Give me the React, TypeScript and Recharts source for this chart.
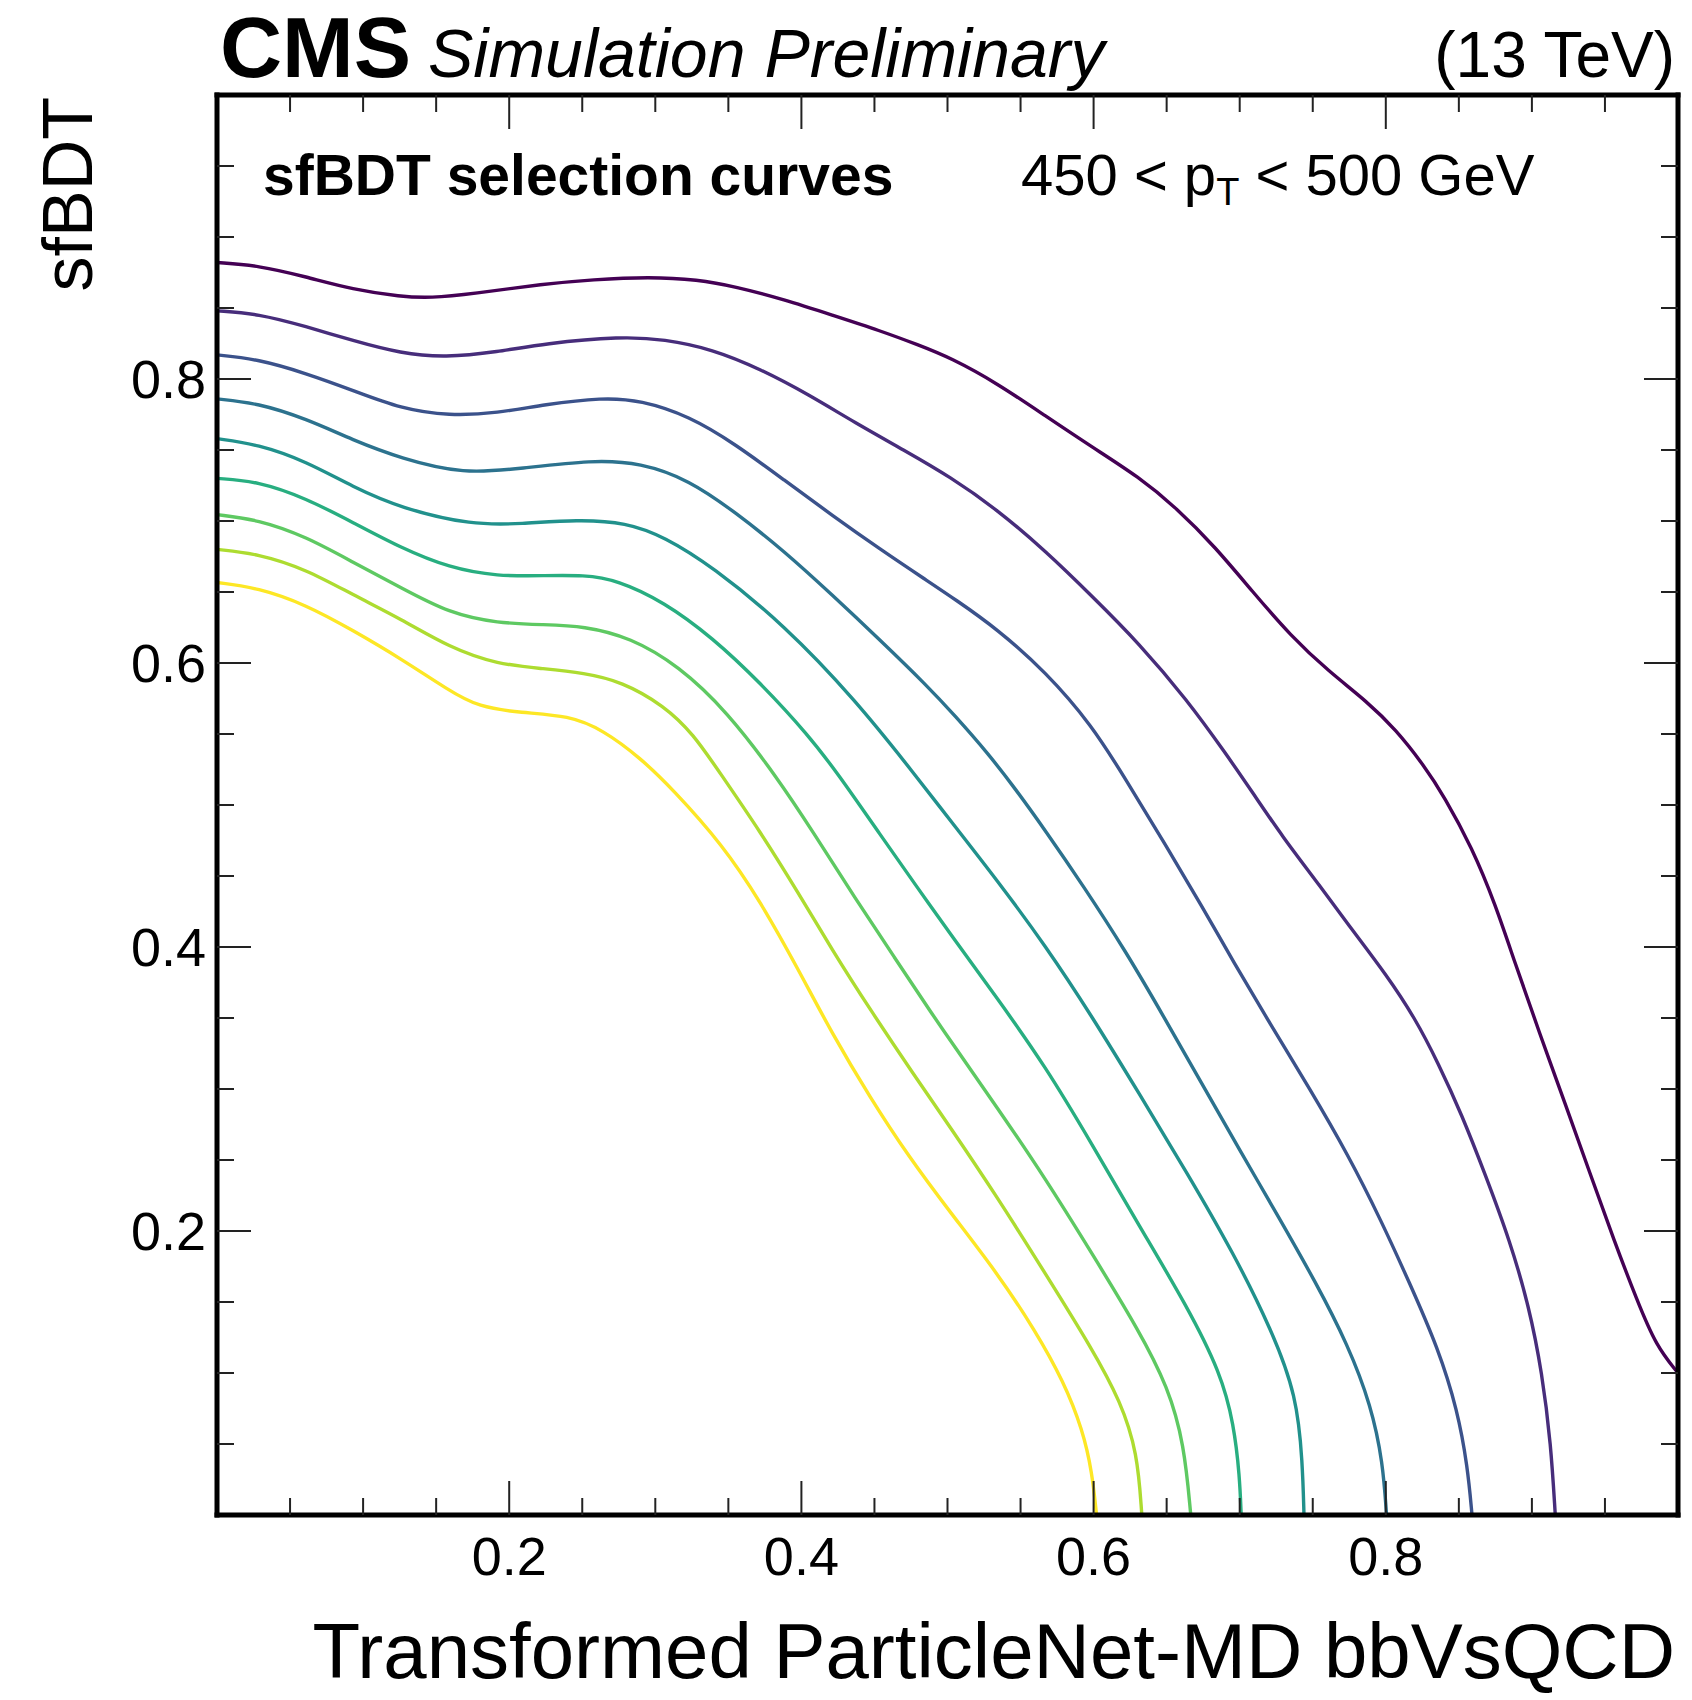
import React from 'react';
import { LineChart, Line, XAxis, YAxis } from 'recharts';

// ---- data: sfBDT selection curves (x = transformed ParticleNet-MD bbVsQCD, y = sfBDT)
const curve1: [number, number][] = [
  [0, 0.882], [0.028, 0.88], [0.061, 0.872], [0.093, 0.863], [0.126, 0.858], [0.146, 0.857],
  [0.175, 0.86], [0.224, 0.867], [0.257, 0.87], [0.296, 0.872], [0.329, 0.87], [0.355, 0.865],
  [0.388, 0.856], [0.421, 0.845], [0.454, 0.834], [0.48, 0.824], [0.502, 0.815], [0.534, 0.797],
  [0.567, 0.774], [0.599, 0.752], [0.631, 0.731], [0.657, 0.709], [0.683, 0.682], [0.709, 0.65],
  [0.735, 0.619], [0.761, 0.594], [0.787, 0.573], [0.807, 0.553], [0.826, 0.528], [0.84, 0.506],
  [0.859, 0.47], [0.875, 0.43], [0.888, 0.39], [0.905, 0.34], [0.923, 0.289], [0.94, 0.24], [0.956, 0.194],
  [0.972, 0.151], [0.985, 0.119], [1.0, 0.1],
];
const curve2: [number, number][] = [
  [0, 0.848], [0.028, 0.846], [0.061, 0.837], [0.093, 0.827], [0.126, 0.818], [0.156, 0.815],
  [0.192, 0.819], [0.224, 0.825], [0.277, 0.83], [0.306, 0.828], [0.339, 0.821], [0.372, 0.807],
  [0.405, 0.789], [0.437, 0.769], [0.47, 0.75], [0.502, 0.731], [0.534, 0.708], [0.567, 0.679],
  [0.599, 0.647], [0.631, 0.614], [0.664, 0.574], [0.69, 0.537], [0.71, 0.507], [0.729, 0.478],
  [0.755, 0.443], [0.777, 0.412], [0.8, 0.381], [0.82, 0.35], [0.836, 0.318], [0.852, 0.282],
  [0.868, 0.24], [0.885, 0.193], [0.898, 0.147], [0.907, 0.1], [0.913, 0.05], [0.916, 0],
];
const curve3: [number, number][] = [
  [0, 0.817], [0.028, 0.814], [0.061, 0.804], [0.093, 0.792], [0.126, 0.779], [0.159, 0.774],
  [0.192, 0.776], [0.224, 0.782], [0.264, 0.787], [0.29, 0.785], [0.323, 0.774], [0.355, 0.754],
  [0.388, 0.729], [0.421, 0.704], [0.454, 0.68], [0.486, 0.658], [0.505, 0.645], [0.534, 0.624],
  [0.567, 0.594], [0.599, 0.556], [0.622, 0.518], [0.648, 0.474], [0.674, 0.429], [0.696, 0.389],
  [0.722, 0.344], [0.748, 0.3], [0.774, 0.254], [0.797, 0.207], [0.816, 0.164], [0.836, 0.117],
  [0.849, 0.074], [0.856, 0.034], [0.859, 0],
];
const curve4: [number, number][] = [
  [0, 0.786], [0.028, 0.783], [0.061, 0.772], [0.093, 0.757], [0.126, 0.744], [0.169, 0.733],
  [0.208, 0.737], [0.257, 0.743], [0.29, 0.741], [0.323, 0.729], [0.355, 0.706], [0.388, 0.679],
  [0.421, 0.648], [0.454, 0.616], [0.486, 0.584], [0.505, 0.563], [0.528, 0.536], [0.546, 0.512],
  [0.567, 0.482], [0.593, 0.443], [0.622, 0.397], [0.648, 0.351], [0.674, 0.304], [0.7, 0.257],
  [0.726, 0.211], [0.752, 0.164], [0.774, 0.12], [0.79, 0.077], [0.798, 0.037], [0.8005, 0],
];
const curve5: [number, number][] = [
  [0, 0.758], [0.028, 0.754], [0.061, 0.742], [0.093, 0.724], [0.126, 0.709], [0.175, 0.697],
  [0.208, 0.698], [0.247, 0.701], [0.28, 0.699], [0.306, 0.689], [0.339, 0.668], [0.388, 0.627],
  [0.437, 0.574], [0.478, 0.521], [0.502, 0.489], [0.534, 0.447], [0.567, 0.401], [0.599, 0.351],
  [0.631, 0.297], [0.664, 0.241], [0.696, 0.184], [0.722, 0.13], [0.739, 0.084], [0.743, 0.037],
  [0.744, 0],
];
const curve6: [number, number][] = [
  [0, 0.73], [0.028, 0.728], [0.061, 0.716], [0.093, 0.699], [0.126, 0.681], [0.159, 0.667],
  [0.192, 0.661], [0.224, 0.6615], [0.251, 0.662], [0.274, 0.6585], [0.306, 0.643], [0.339, 0.618],
  [0.372, 0.586], [0.405, 0.549], [0.425, 0.522], [0.454, 0.479], [0.48, 0.441], [0.502, 0.409],
  [0.534, 0.364], [0.567, 0.316], [0.599, 0.261], [0.631, 0.204], [0.664, 0.147], [0.687, 0.1],
  [0.696, 0.064], [0.7, 0.027], [0.701, 0],
];
const curve7: [number, number][] = [
  [0, 0.7045], [0.028, 0.701], [0.061, 0.689], [0.093, 0.671], [0.126, 0.653], [0.159, 0.635],
  [0.192, 0.628], [0.224, 0.627], [0.251, 0.626], [0.283, 0.618], [0.316, 0.598], [0.349, 0.566],
  [0.383, 0.52], [0.408, 0.481], [0.437, 0.434], [0.4635, 0.393], [0.49, 0.352], [0.502, 0.334],
  [0.534, 0.287], [0.567, 0.237], [0.599, 0.184], [0.631, 0.13], [0.651, 0.09], [0.662, 0.05],
  [0.6665, 0],
];
const curve8: [number, number][] = [
  [0, 0.68], [0.028, 0.677], [0.061, 0.666], [0.093, 0.648], [0.126, 0.631], [0.159, 0.611],
  [0.192, 0.599], [0.224, 0.596], [0.251, 0.593], [0.277, 0.587], [0.306, 0.57], [0.326, 0.55],
  [0.344, 0.523], [0.372, 0.481], [0.398, 0.438], [0.421, 0.398], [0.447, 0.356], [0.477, 0.31],
  [0.502, 0.273], [0.534, 0.224], [0.567, 0.17], [0.599, 0.117], [0.6185, 0.08], [0.63, 0.044],
  [0.633, 0],
];
const curve9: [number, number][] = [
  [0, 0.6567], [0.028, 0.653], [0.061, 0.641], [0.093, 0.623], [0.126, 0.603], [0.159, 0.5805],
  [0.179, 0.569], [0.208, 0.565], [0.241, 0.563], [0.264, 0.553], [0.29, 0.533], [0.312, 0.511],
  [0.346, 0.472], [0.372, 0.432], [0.398, 0.384], [0.421, 0.339], [0.447, 0.294], [0.473, 0.253],
  [0.502, 0.213], [0.534, 0.1705], [0.56, 0.13], [0.5795, 0.094], [0.5925, 0.06], [0.599, 0.03],
  [0.602, 0],
];

const curves = [curve1, curve2, curve3, curve4, curve5, curve6, curve7, curve8, curve9];
const curveColors = ['#440154', '#472d7b', '#3b528b', '#2c728e', '#21918c', '#28ae80', '#5ec962', '#addc30', '#fde725'];

const axisTicks = [0.05, 0.1, 0.15, 0.2, 0.25, 0.3, 0.35, 0.4, 0.45, 0.5, 0.55, 0.6, 0.65, 0.7, 0.75, 0.8, 0.85, 0.9, 0.95];
const axisDomain: [number, number] = [0, 1];

const titleCMS = 'CMS';
const titleExtra = 'Simulation Preliminary';
const titleEnergy = '(13 TeV)';
const labelHeader = 'sfBDT selection curves';
const xTitle = 'Transformed ParticleNet-MD bbVsQCD';
const yTitle = 'sfBDT';

// ---- layout / style
const W = 1692;
const H = 1700;
// plot area: left 217, top 95, right 1678, bottom 1515
const AX_LEFT_W = 100;
const AX_RIGHT_W = 10;
const AX_TOP_H = 10;
const AX_BOTTOM_H = 100;
const MARGIN = { top: 95 - AX_TOP_H, right: 14 - AX_RIGHT_W, bottom: 185 - AX_BOTTOM_H, left: 217 - AX_LEFT_W };
const FONT = '"Liberation Sans", Arial, Helvetica, sans-serif';
const MAJOR_LEN = 34;
const MINOR_LEN = 17;
const TICK_STROKE = '#222';
const FRAME = { stroke: '#000', strokeWidth: 5, strokeLinecap: 'square' as const };

const isMajor = (v: number) => Math.abs(v * 5 - Math.round(v * 5)) < 1e-6;

const BottomTick = (props: any) => {
  const { x, y, payload } = props;
  const major = isMajor(payload.value);
  return (
    <g>
      <line x1={x} y1={y} x2={x} y2={y - (major ? MAJOR_LEN : MINOR_LEN)} stroke={TICK_STROKE} strokeWidth={2} />
      {major && (
        <text x={x} y={y + 60} textAnchor="middle" fontFamily={FONT} fontSize={54} fill="#000">
          {payload.value.toFixed(1)}
        </text>
      )}
    </g>
  );
};

const TopTick = (props: any) => {
  const { x, y, payload } = props;
  const major = isMajor(payload.value);
  return <line x1={x} y1={y} x2={x} y2={y + (major ? MAJOR_LEN : MINOR_LEN)} stroke={TICK_STROKE} strokeWidth={2} />;
};

const LeftTick = (props: any) => {
  const { x, y, payload } = props;
  const major = isMajor(payload.value);
  return (
    <g>
      <line x1={x} y1={y} x2={x + (major ? MAJOR_LEN : MINOR_LEN)} y2={y} stroke={TICK_STROKE} strokeWidth={2} />
      {major && (
        <text x={x - 11} y={y + 19} textAnchor="end" fontFamily={FONT} fontSize={54} fill="#000">
          {payload.value.toFixed(1)}
        </text>
      )}
    </g>
  );
};

const RightTick = (props: any) => {
  const { x, y, payload } = props;
  const major = isMajor(payload.value);
  return <line x1={x} y1={y} x2={x - (major ? MAJOR_LEN : MINOR_LEN)} y2={y} stroke={TICK_STROKE} strokeWidth={2} />;
};

export default function App() {
  return (
    <div style={{ position: 'absolute', left: 0, top: 0, width: W, height: H, background: '#fff' }}>
      <LineChart width={W} height={H} margin={MARGIN}>
        <XAxis
          xAxisId="bottom"
          dataKey="x"
          type="number"
          domain={axisDomain}
          allowDataOverflow
          ticks={axisTicks}
          interval={0}
          height={AX_BOTTOM_H}
          tickSize={0}
          tickMargin={0}
          tickLine={false}
          axisLine={FRAME}
          tick={<BottomTick />}
        />
        <XAxis
          xAxisId="top"
          orientation="top"
          dataKey="x"
          type="number"
          domain={axisDomain}
          allowDataOverflow
          ticks={axisTicks}
          interval={0}
          height={AX_TOP_H}
          tickSize={0}
          tickMargin={0}
          tickLine={false}
          axisLine={FRAME}
          tick={<TopTick />}
        />
        <YAxis
          yAxisId="left"
          type="number"
          domain={axisDomain}
          allowDataOverflow
          ticks={axisTicks}
          interval={0}
          width={AX_LEFT_W}
          tickSize={0}
          tickMargin={0}
          tickLine={false}
          axisLine={FRAME}
          tick={<LeftTick />}
        />
        <YAxis
          yAxisId="right"
          orientation="right"
          type="number"
          domain={axisDomain}
          allowDataOverflow
          ticks={axisTicks}
          interval={0}
          width={AX_RIGHT_W}
          tickSize={0}
          tickMargin={0}
          tickLine={false}
          axisLine={FRAME}
          tick={<RightTick />}
        />
        {curves.map((c, i) => (
          <Line
            key={i}
            xAxisId="bottom"
            yAxisId="left"
            data={c.map(([x, y]) => ({ x, y }))}
            dataKey="y"
            type="basis"
            stroke={curveColors[i]}
            strokeWidth={3.4}
            dot={false}
            activeDot={false}
            isAnimationActive={false}
          />
        ))}
        <Line
          xAxisId="top"
          yAxisId="right"
          data={curve1.map(([x, y]) => ({ x, y }))}
          dataKey="y"
          stroke="none"
          dot={false}
          activeDot={false}
          legendType="none"
          isAnimationActive={false}
        />
      </LineChart>
      <svg width={W} height={H} style={{ position: 'absolute', left: 0, top: 0, pointerEvents: 'none' }}>
        <text x={220} y={77} fontFamily={FONT} fontWeight="bold" fontSize={86} fill="#000">{titleCMS}</text>
        <text x={428} y={77} fontFamily={FONT} fontStyle="italic" fontSize={68} fill="#000">{titleExtra}</text>
        <text x={1675} y={77} textAnchor="end" fontFamily={FONT} fontSize={64} fill="#000">{titleEnergy}</text>
        <text x={263} y={195} fontFamily={FONT} fontWeight="bold" fontSize={57} fill="#000">{labelHeader}</text>
        <text x={1021} y={195} fontFamily={FONT} fontSize={58} fill="#000">
          450 &lt; p<tspan fontSize={38} dy={10}>T</tspan><tspan dy={-10}> &lt; 500 GeV</tspan>
        </text>
        <text x={92} y={97} transform="rotate(-90 92 97)" textAnchor="end" fontFamily={FONT} fontSize={70} fill="#000">{yTitle}</text>
        <text x={1675} y={1678} textAnchor="end" fontFamily={FONT} fontSize={78} fill="#000">{xTitle}</text>
      </svg>
    </div>
  );
}
